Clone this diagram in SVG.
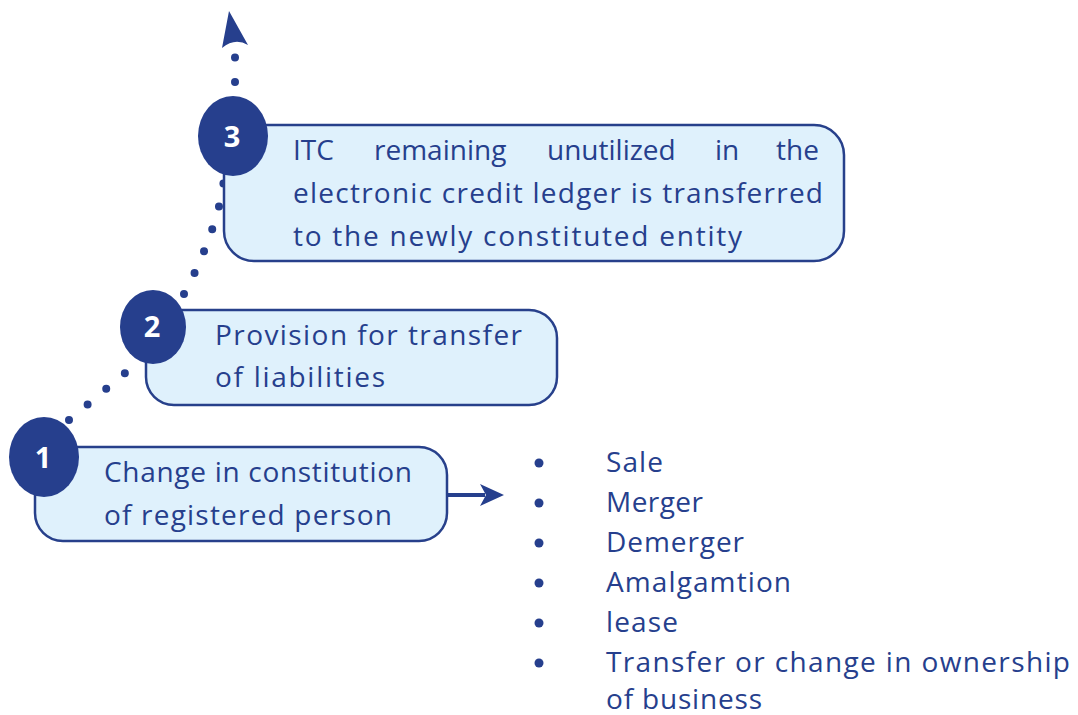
<svg xmlns="http://www.w3.org/2000/svg" width="1078" height="715" viewBox="0 0 1078 715">
<style>
.box{fill:#dff1fc;stroke:#27408b;stroke-width:2.5}
.num{fill:#263f8d}
.numt{fill:#ffffff;font-family:"Open Sans","Liberation Sans",sans-serif;font-weight:bold;font-size:29px;text-anchor:middle}
.t{fill:#263f8d;font-family:"Open Sans","Liberation Sans",sans-serif;font-size:28px}
.dots{fill:none;stroke:#263f8d;stroke-width:8;stroke-linecap:round}
.bul{fill:#263f8d}
</style>
<rect width="1078" height="715" fill="#ffffff"/>
<g id="connectors">
<path class="dots" d="M69,420 L125,373" stroke-dasharray="0 24.3"/>
<path class="dots" d="M184,294 L195,272 L205,249 L213,227 L220,203 L224,180" stroke-dasharray="0 23.6"/>
<path class="dots" d="M235,82 L235,57" stroke-dasharray="0 24.5"/>
<path d="M229,11 L248,45 Q235,37 222,48 Z" fill="#263f8d"/>
<path d="M447,495 L485,495" stroke="#263f8d" stroke-width="4" fill="none"/>
<path d="M480,484 L504,495 L480,506 L486,495 Z" fill="#263f8d"/>
</g>
<g id="node3">
<rect class="box" x="224" y="125" width="620" height="136" rx="30"/>
<ellipse class="num" cx="233" cy="136" rx="35" ry="40"/>
<text class="numt" x="232" y="147">3</text>
<text class="t" y="160"><tspan x="293">ITC</tspan><tspan x="374">remaining</tspan><tspan x="547">unutilized</tspan><tspan x="715">in</tspan><tspan x="776">the</tspan></text>
<text class="t" x="293" y="203" textLength="530">electronic credit ledger is transferred</text>
<text class="t" x="293" y="246" textLength="449">to the newly constituted entity</text>
</g>
<g id="node2">
<rect class="box" x="146" y="310" width="411" height="95" rx="28"/>
<ellipse class="num" cx="153" cy="327" rx="33" ry="37"/>
<text class="numt" x="152" y="337">2</text>
<text class="t" x="215" y="345" textLength="307">Provision for transfer</text>
<text class="t" x="215" y="387" textLength="170">of liabilities</text>
</g>
<g id="node1">
<rect class="box" x="35" y="447" width="412" height="94" rx="28"/>
<ellipse class="num" cx="44" cy="457" rx="35" ry="40"/>
<text class="numt" x="43" y="468">1</text>
<text class="t" x="104" y="482" textLength="308">Change in constitution</text>
<text class="t" x="104" y="525" textLength="288">of registered person</text>
</g>
<g id="list">
<circle class="bul" cx="539" cy="463" r="4.5"/>
<circle class="bul" cx="539" cy="503" r="4.5"/>
<circle class="bul" cx="539" cy="543" r="4.5"/>
<circle class="bul" cx="539" cy="583" r="4.5"/>
<circle class="bul" cx="539" cy="623" r="4.5"/>
<circle class="bul" cx="539" cy="663" r="4.5"/>
<text class="t" x="606" y="472" textLength="57">Sale</text>
<text class="t" x="606" y="512" textLength="97">Merger</text>
<text class="t" x="606" y="552" textLength="138">Demerger</text>
<text class="t" x="606" y="592" textLength="185">Amalgamtion</text>
<text class="t" x="606" y="632" textLength="72">lease</text>
<text class="t" x="606" y="672" textLength="464">Transfer or change in ownership</text>
<text class="t" x="606" y="709" textLength="156">of business</text>
</g>
</svg>
